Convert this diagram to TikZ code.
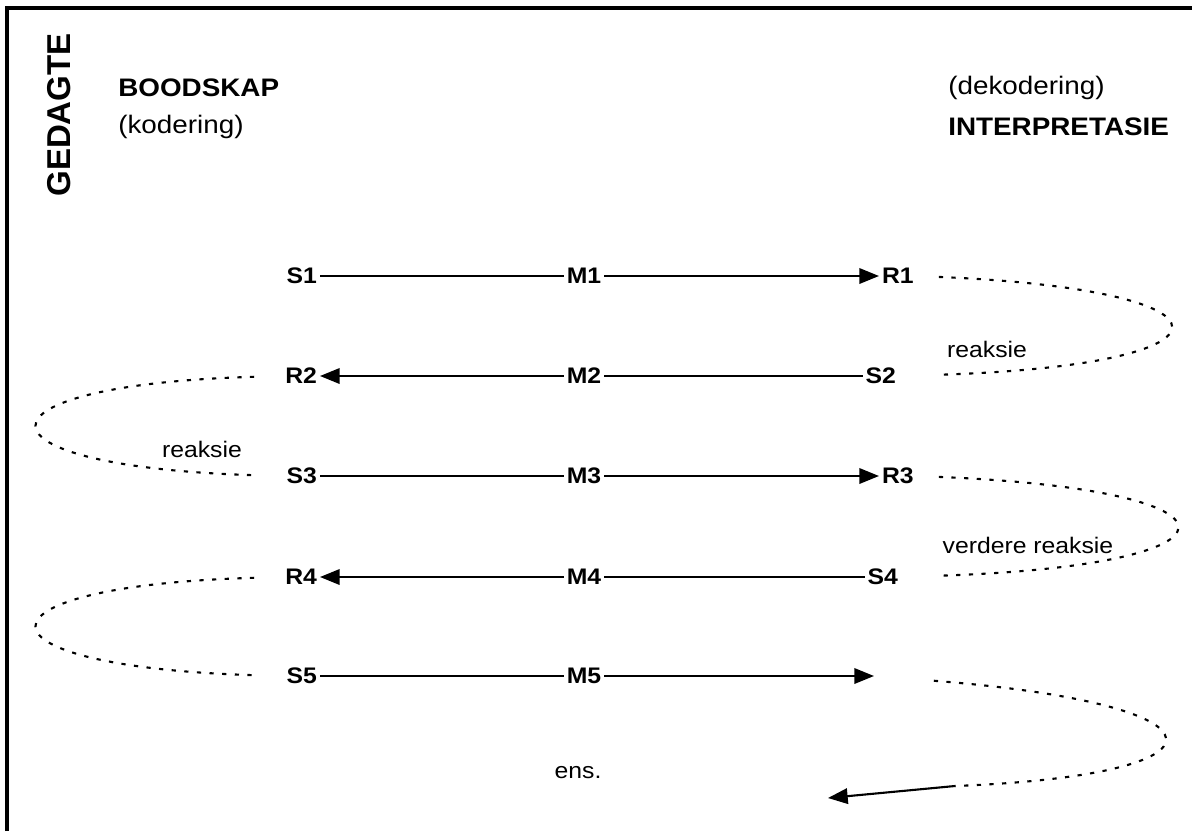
\documentclass[tikz,border=0pt]{standalone}
\usepackage{fontspec}
\setmainfont{Liberation Sans}[FakeStretch=1.1]
\newfontfamily\gedfont{Liberation Sans}
\usepackage{tikz}
\usetikzlibrary{arrows.meta}
\tikzstyle{arrow} = [line width=1.5pt,-{Triangle[length=14pt,width=11pt]}]
\tikzstyle{link} = [line width=1.5pt]
\tikzstyle{dots} = [line width=1.5pt,dash pattern=on 3pt off 6pt]
\tikzstyle{lbl} = [font=\bfseries\fontsize{16}{19}\selectfont,inner sep=2pt]
\tikzstyle{note} = [font=\fontsize{16}{19}\selectfont,inner sep=1pt]
\tikzstyle{head} = [font=\fontsize{18}{21}\selectfont,inner sep=0pt,anchor=west]

\begin{document}
\begin{tikzpicture}[x=0.025cm,y=-0.025cm]
            \useasboundingbox (0,0) rectangle (1192,831);
            % frame
            \draw [line width=2.2pt] (7,831) -- (7,8) -- (1192,8);
            % headings
            \node [rotate=90,font=\gedfont\bfseries\fontsize{23.5}{26}\selectfont] (ged) at (59,115) {GEDAGTE};
            \node [head,font=\bfseries\fontsize{18}{21}\selectfont] (bood) at (118,88) {BOODSKAP};
            \node [head] (kod) at (118,127) {(kodering)};
            \node [head] (dekod) at (948,88) {(dekodering)};
            \node [head,font=\bfseries\fontsize{18}{21}\selectfont] (interp) at (948,127) {INTERPRETASIE};
            % rows
            \node [lbl,anchor=east] (S1) at (320,276) {S1};
            \node [lbl] (M1) at (584,276) {M1};
            \node [lbl,anchor=west] (R1) at (879,276) {R1};
            \node [lbl,anchor=east] (R2) at (320,376) {R2};
            \node [lbl] (M2) at (584,376) {M2};
            \node [lbl,anchor=east] (S2) at (899,376) {S2};
            \node [lbl,anchor=east] (S3) at (320,476) {S3};
            \node [lbl] (M3) at (584,476) {M3};
            \node [lbl,anchor=west] (R3) at (879,476) {R3};
            \node [lbl,anchor=east] (R4) at (320,577) {R4};
            \node [lbl] (M4) at (584,577) {M4};
            \node [lbl,anchor=east] (S4) at (901,577) {S4};
            \node [lbl,anchor=east] (S5) at (320,676) {S5};
            \node [lbl] (M5) at (584,676) {M5};
            \coordinate (e5) at (874,676);
            \coordinate (k5) at (955,786);
            \coordinate (e6) at (828,798);
            \draw [link] (S1) -- (M1);
            \draw [arrow] (M1) -- (R1);
            \draw [link] (S2) -- (M2);
            \draw [arrow] (M2) -- (R2);
            \draw [link] (S3) -- (M3);
            \draw [arrow] (M3) -- (R3);
            \draw [link] (S4) -- (M4);
            \draw [arrow] (M4) -- (R4);
            \draw [link] (S5) -- (M5);
            \draw [arrow] (M5) -- (e5);
            % feedback loops
            \draw [dots,shorten <=5.5mm,shorten >=1cm] (R1.east) .. controls (1250,290) and (1250,365) .. (S2.east);
            \draw [dots,shorten <=7mm,shorten >=6.5mm] (R2.west) .. controls (-38,385) and (-38,467) .. (S3.west);
            \draw [dots,shorten <=5.5mm,shorten >=1cm] (R3.east) .. controls (1258,490) and (1258,565) .. (S4.east);
            \draw [dots,shorten <=7mm,shorten >=6.5mm] (R4.west) .. controls (-38,586) and (-38,667) .. (S5.west);
            \draw [dots,shorten <=1.5cm] (e5) .. controls (1240,705) and (1240,775) .. (k5);
            \draw [arrow] (k5) -- (e6);
            \node [note] (rk1) at (987,349) {reaksie};
            \node [note] (rk2) at (202,449) {reaksie};
            \node [note] (rk3) at (1028,545) {verdere reaksie};
            \node [note] (ens) at (578,773) {ens.};
        \end{tikzpicture}
\end{document}
